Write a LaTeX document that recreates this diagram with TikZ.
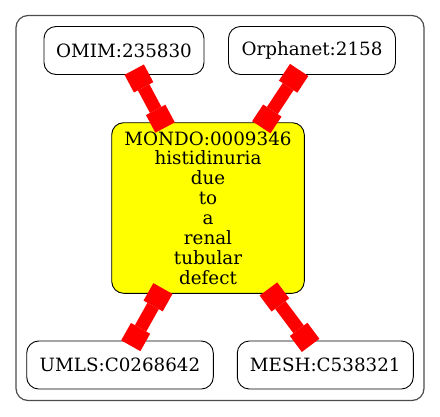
\documentclass[tikz,border=0pt]{standalone}
\usepackage{fontspec}
\setmainfont{DejaVu Serif}
\usetikzlibrary{arrows.meta}
\definecolor{focusfill}{RGB}{255,255,0}
\definecolor{xrefred}{RGB}{255,0,0}
\tikzset{
  cluster/.style={draw=black!70, line width=1.2pt, rounded corners=12pt},
  term/.style={draw=black, line width=0.9pt, rounded corners=12pt, inner sep=0pt,
    minimum height=48pt, font=\fontsize{18.3}{19.9}\selectfont},
  focus/.style={term, fill=focusfill, align=center, minimum width=192.6pt, minimum height=170.6pt},
  xref/.style={draw=xrefred, line width=13pt, shorten <=-6pt, shorten >=-6pt,
    {Square[length=20pt,width=22pt,line width=0pt]}-{Square[length=20pt,width=22pt,line width=0pt]}},
}
\begin{document}
\begin{tikzpicture}[x=1pt, y=-1pt]
    \useasboundingbox (0,0) rectangle (440,416);
    \draw[cluster] (16,15.5) rectangle (424,400.5);
    % terms
    \node[term, minimum width=160pt] (omim) at (124,50.5) {OMIM:235830};
    \node[term, minimum width=167pt] (orpha) at (312,50.5) {Orphanet:2158};
    \node[focus] (mondo) at (208,208) {MONDO:0009346\\histidinuria\\due\\to\\a\\renal\\tubular\\defect};
    \node[term, minimum width=186.6pt] (umls) at (120,365) {UMLS:C0268642};
    \node[term, minimum width=176pt] (mesh) at (325.3,365) {MESH:C538321};
    % cross references
    \foreach \n in {omim, orpha, umls, mesh}
        \draw[xref] (\n) -- (mondo);
\end{tikzpicture}
\end{document}
